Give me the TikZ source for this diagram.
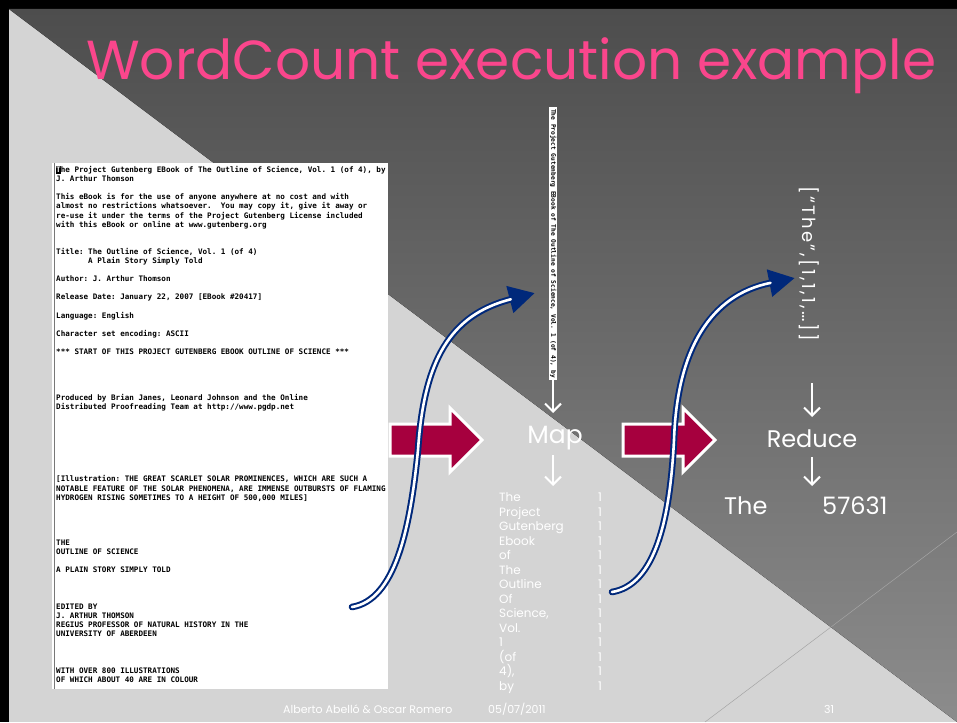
\documentclass[tikz,border=0pt]{standalone}
\usepackage{fontspec}
\setmainfont{Poppins}
\newfontfamily\monof{DejaVu Sans Mono}
\usetikzlibrary{arrows.meta}
\definecolor{lightbg}{RGB}{212,212,212}
\definecolor{darktop}{RGB}{77,77,77}
\definecolor{darkbot}{RGB}{140,140,140}
\definecolor{crim}{RGB}{166,0,62}
\definecolor{navyb}{RGB}{0,40,122}
\definecolor{pinkt}{RGB}{250,70,140}
\definecolor{faint}{RGB}{165,165,165}
\definecolor{docedge}{RGB}{120,120,120}
\begin{document}
\begin{tikzpicture}[x=1pt,y=-1pt,
 doctext/.style={font=\monof\bfseries\fontsize{7.6}{9.1}\selectfont\frenchspacing, inner sep=0pt, anchor=base west, text=black},
 striptext/.style={font=\monof\bfseries\fontsize{6.2}{7}\selectfont\frenchspacing, fill=white, text=black, rotate=-90, minimum width=273pt, text height=4.7pt, text depth=1.3pt, inner xsep=0pt, inner ysep=1pt},
 wtext/.style={text=white, inner sep=0pt},
 listw/.style={wtext, font=\fontsize{12}{14}\selectfont, anchor=base west},
 bigw/.style={wtext, font=\fontsize{24}{28}\selectfont},
 downarrow/.style={draw=white, line width=2pt, -{Straight Barb[length=8pt,width=16pt]}},
 redarrow/.style={draw=white, line width=3pt, fill=crim, line join=miter},
 blueouter/.style={draw=navyb, line width=6.6pt, line cap=round, -{Triangle[length=26pt,width=26pt]}},
 blueinner/.style={draw=white, line width=2.6pt, line cap=round, shorten >=25pt},
 foot/.style={wtext, font=\fontsize{11}{13}\selectfont, anchor=base west}
]
\useasboundingbox (0,0) rectangle (957,722);
% background
\fill[black] (0,0) rectangle (957,722);
\fill[lightbg] (9,9) rectangle (957,722);
\fill[top color=darktop, bottom color=darkbot] (9,9) -- (957,9) -- (957,722) -- cycle;
\draw[faint, line width=0.5pt] (705,722) -- (957,532);

% title
\node[anchor=base west, inner sep=0pt, text=pinkt, font=\fontsize{55}{60}\selectfont] (title) at (86,80) {WordCount execution example};

% document screenshot
\node[fill=white, minimum width=336pt, minimum height=526pt, anchor=north west, inner sep=0pt] (doc) at (52,163) {};
\draw[docedge, line width=1pt] (doc.north west) ++(2.5,0) coordinate (de1) -- (de1 |- doc.south) coordinate (de2);
\fill[black] (56,165.7) rectangle (60.6,174.2);
\foreach \k/\t in {
 0/{\textcolor{white}{T}he Project Gutenberg EBook of The Outline of Science, Vol. 1 (of 4), by},
 1/{J. Arthur Thomson},
 3/{This eBook is for the use of anyone anywhere at no cost and with},
 4/{almost no restrictions whatsoever.~ You may copy it, give it away or},
 5/{re-use it under the terms of the Project Gutenberg License included},
 6/{with this eBook or online at www.gutenberg.org},
 9/{Title: The Outline of Science, Vol. 1 (of 4)},
 10/{\hspace*{32pt}A Plain Story Simply Told},
 12/{Author: J. Arthur Thomson},
 14/{Release Date: January 22, 2007 [EBook \#20417]},
 16/{Language: English},
 18/{Character set encoding: ASCII},
 20/{*** START OF THIS PROJECT GUTENBERG EBOOK OUTLINE OF SCIENCE ***},
 25/{Produced by Brian Janes, Leonard Johnson and the Online},
 26/{Distributed Proofreading Team at http://www.pgdp.net},
 34/{[Illustration: THE GREAT SCARLET SOLAR PROMINENCES, WHICH ARE SUCH A},
 35/{NOTABLE FEATURE OF THE SOLAR PHENOMENA, ARE IMMENSE OUTBURSTS OF FLAMING},
 36/{HYDROGEN RISING SOMETIMES TO A HEIGHT OF 500,000 MILES]},
 41/{THE},
 42/{OUTLINE OF SCIENCE},
 44/{A PLAIN STORY SIMPLY TOLD},
 48/{EDITED BY},
 49/{J. ARTHUR THOMSON},
 50/{REGIUS PROFESSOR OF NATURAL HISTORY IN THE},
 51/{UNIVERSITY OF ABERDEEN},
 55/{WITH OVER 800 ILLUSTRATIONS},
 56/{OF WHICH ABOUT 40 ARE IN COLOUR}}
 \node[doctext] (d\k) at (56,{172.5+9.1*\k}) {\t};

% vertical strip (map input)
\node[striptext] (strip) at (553,243.5) {The Project Gutenberg EBook of The Outline of Science, Vol. 1 (of 4), by};
\coordinate (mapin) at (553,413);
\draw[downarrow] (strip.east) -- (mapin);

% Map
\node[wtext, font=\fontsize{25}{30}\selectfont, anchor=base] (map) at (555,443) {Map};
\coordinate (mapout1) at (553,455);
\coordinate (mapout2) at (553,486);
\draw[downarrow] (mapout1) -- (mapout2);

% map output list
\foreach \w [count=\i from 0] in {{The},{Project},{Gutenberg},{Ebook},{of},{The},{Outline},{Of},{Science,},{Vol.},{1},{(of},{4),},{by}}{
 \node[listw] (w\i) at (499,{501.5+14.5*\i}) {\w};
 \node[listw] (c\i) at (598,{501.5+14.5*\i}) {1};
}

% reduce column
\node[wtext, font=\fontsize{18}{20}\selectfont\addfontfeatures{LetterSpace=12.5}, rotate=-90] (rin) at (809,264) {[“The”,[1,1,1,…]]};
\coordinate (r1a) at (812,383);
\coordinate (r1b) at (812,417);
\draw[downarrow] (r1a) -- (r1b);
\node[bigw, anchor=base] (reduce) at (812,447) {Reduce};
\coordinate (r2a) at (812,457);
\coordinate (r2b) at (812,486);
\draw[downarrow] (r2a) -- (r2b);
\node[bigw, anchor=base west] (rk) at (724,514) {The};
\node[bigw, anchor=base west] (rv) at (822,514) {57631};

% red block arrows
\draw[redarrow] (390,424) -- (450,424) -- (450,408) -- (482,440) -- (450,472) -- (450,456) -- (390,456) -- cycle;
\draw[redarrow] (623,424) -- (683,424) -- (683,408) -- (715,440) -- (683,472) -- (683,456) -- (623,456) -- cycle;

% blue curved arrows
\coordinate (b1s) at (352,607);
\coordinate (b1m) at (418,450);
\coordinate (b1e) at (535,293);
\draw[blueouter] (b1s) .. controls (395,600) and (410,530) .. (b1m) .. controls (424,360) and (450,315) .. (b1e);
\draw[blueinner] (b1s) .. controls (395,600) and (410,530) .. (b1m) .. controls (424,360) and (450,315) .. (b1e);
\coordinate (b2s) at (612,592);
\coordinate (b2m) at (674,440);
\coordinate (b2e) at (795,278);
\draw[blueouter] (b2s) .. controls (655,585) and (670,520) .. (b2m) .. controls (677,350) and (710,295) .. (b2e);
\draw[blueinner] (b2s) .. controls (655,585) and (670,520) .. (b2m) .. controls (677,350) and (710,295) .. (b2e);

% footer
\node[foot] (f1) at (283,713) {Alberto Abelló \& Oscar Romero};
\node[foot] (f2) at (488,713) {05/07/2011};
\node[foot] (f3) at (824,713) {31};
\end{tikzpicture}
\end{document}
